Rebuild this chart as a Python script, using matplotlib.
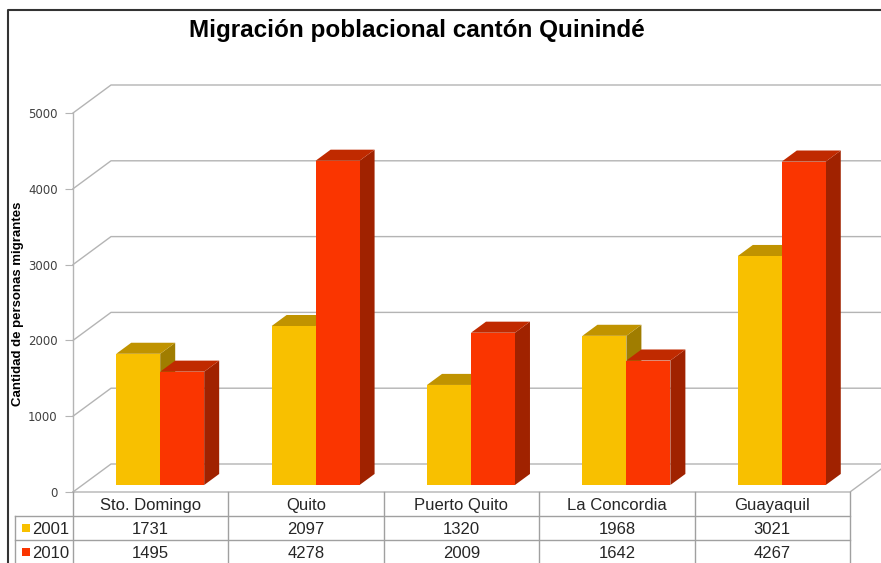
import matplotlib
matplotlib.use("Agg")
import matplotlib.pyplot as plt
from matplotlib.patches import Polygon, Rectangle
from matplotlib.lines import Line2D

# data
categories = ["Sto. Domingo", "Quito", "Puerto Quito", "La Concordia", "Guayaquil"]
series_names = ["2001", "2010"]
values_2001 = [1731, 2097, 1320, 1968, 3021]
values_2010 = [1495, 4278, 2009, 1642, 4267]
yticks = [0, 1000, 2000, 3000, 4000, 5000]

W, H = 881, 563
fig = plt.figure(figsize=(W / 100, H / 100), dpi=100)

def px(x0, y0, x1, y1):
    # pixel box (top-left origin) -> figure fraction rect
    return [x0 / W, 1 - y1 / H, (x1 - x0) / W, (y1 - y0) / H]

tick_font = ["DejaVu Sans"]
tbl_font = ["Liberation Sans", "DejaVu Sans"]
num_font = ["Liberation Sans Narrow", "Liberation Sans", "DejaVu Sans"]
grid_c = "#b4b4b4"
text_c = "#262626"

# main (front plane) axes
ax = fig.add_axes(px(73, 113, 850, 492))
ax.set_xlim(0, len(categories))
ax.set_ylim(0, 5000)
for s in ax.spines.values():
    s.set_visible(False)
ax.set_xticks([])
ax.set_yticks(yticks)
ax.tick_params(axis="y", length=6, color=grid_c, labelsize=8.5, labelcolor="#404040", pad=5)
for lab in ax.get_yticklabels():
    lab.set_family(tick_font)

# depth offsets in data units (38px right, 28px up)
DX = 38 / (777 / 5)
DY = 28 / (379 / 5000)

def P(x, y, d):
    return (x + d * DX, y + d * DY)

# walls: gridlines going back then along back wall
for t in yticks:
    ax.add_line(Line2D([0, DX, 6], [t, t + DY, t + DY], color=grid_c, lw=1.0, clip_on=False, zorder=1))
ax.add_line(Line2D([0, 0], [0, 5000], color=grid_c, lw=1.0, clip_on=False, zorder=1))
# floor edges
ax.add_line(Line2D([0, 5, 5 + DX], [0, 0, DY], color=grid_c, lw=1.0, clip_on=False, zorder=1))

# bars
face = [("#F8C000", "#C09300", "#A07D00"), ("#FA3500", "#C02A00", "#A02200")]
bw = 0.283
d0, d1 = 0.25, 0.25 + 15 / 38
for i in range(len(categories)):
    for s, vals in enumerate([values_2001, values_2010]):
        v = vals[i]
        x0 = i + 0.5 - bw + s * bw
        x1 = x0 + bw
        fc, tc, sc = face[s]
        front = [P(x0, 0, d0), P(x1, 0, d0), P(x1, v, d0), P(x0, v, d0)]
        top = [P(x0, v, d0), P(x1, v, d0), P(x1, v, d1), P(x0, v, d1)]
        side = [P(x1, 0, d0), P(x1, 0, d1), P(x1, v, d1), P(x1, v, d0)]
        z = 3 + i * 2 + s
        for poly, c in [(side, sc), (top, tc), (front, fc)]:
            ax.add_patch(Polygon(poly, closed=True, facecolor=c, edgecolor="none", zorder=z, clip_on=False))

# y label
fig.text(18 / W, 1 - 304 / H, "Cantidad de personas migrantes", rotation=90,
         ha="center", va="center", fontsize=9.5, fontweight="bold", family=tbl_font, color="black")

# title
fig.text(417 / W, 1 - 37 / H, "Migración poblacional cantón Quinindé", ha="center",
         va="baseline", fontsize=17.5, fontweight="bold", family=tbl_font, color="black")

# data table below the floor
tax = fig.add_axes(px(15, 492, 850, 564))
tax.set_xlim(-58 / (777 / 5), len(categories))
tax.set_ylim(3, 0)
tax.axis("off")
tl = dict(color="#a0a0a0", lw=1.0, clip_on=False)
for k in range(len(categories) + 1):
    tax.add_line(Line2D([k, k], [0, 3], **tl))
tax.add_line(Line2D([tax.get_xlim()[0]] * 2, [1, 3], **tl))
for r in [1, 2]:
    tax.add_line(Line2D([tax.get_xlim()[0], len(categories)], [r, r], **tl))
for i, c in enumerate(categories):
    tax.text(i + 0.5, 0.55, c, ha="center", va="center", fontsize=12, family=tbl_font, color=text_c)
for r, (name, vals) in enumerate(zip(series_names, [values_2001, values_2010])):
    for i, v in enumerate(vals):
        tax.text(i + 0.5, r + 1.55, str(v), ha="center", va="center", fontsize=12,
                 family=num_font, color=text_c)
    tax.add_patch(Rectangle((-0.328, r + 1.35), 0.052, 0.3, facecolor=face[r][0],
                            edgecolor="none", clip_on=False))
    tax.text(-0.26, r + 1.55, name, ha="left", va="center", fontsize=12, family=num_font, color=text_c)

# outer chart frame (top and left edges visible)
fig.add_artist(Line2D([8 / W, 8 / W, 1], [0, 1 - 10 / H, 1 - 10 / H], transform=fig.transFigure,
                      color="#333333", lw=1.5))

fig.savefig("out.png", dpi=100)
